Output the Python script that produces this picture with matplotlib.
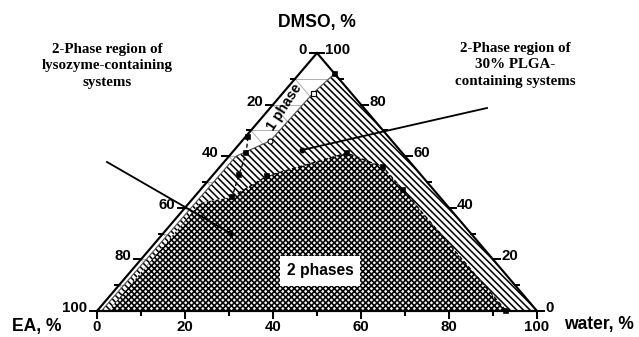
import numpy as np
import matplotlib
matplotlib.use("Agg")
from matplotlib import pyplot as plt
from matplotlib.patches import Polygon

plt.rcParams['hatch.linewidth'] = 0.95
plt.rcParams['font.family'] = ['Liberation Sans', 'DejaVu Sans']

# ---------------------------------------------------------------------------
# data (water %, DMSO %); EA % = 100 - water - DMSO
# ---------------------------------------------------------------------------
# binodal of the 30 % PLGA systems (hatched region lies right of it)
plga_water = [1.0, 1.3, 1.6, 6.4, 6.9, 8.0]
plga_dmso = [0.0, 30.0, 60.0, 66.0, 84.5, 92.0]

# binodal of the lysozyme systems, left branch (dashed, filled markers)
lyso_left_water = [0.6, 3.3, 5.9, 8.6]
lyso_left_dmso = [67.4, 61.2, 52.7, 44.2]

# binodal of the lysozyme systems, upper branch (cross-hatched region below)
lyso_water = [2.5, 2.5, 8.6, 12.5, 26.2, 37.1, 46.1, 93.0]
lyso_dmso = [0.0, 42.0, 44.2, 52.3, 61.2, 55.8, 46.9, 0.0]

tick_vals = list(range(0, 101, 10))
label_vals = list(range(0, 101, 20))

# ---------------------------------------------------------------------------
# geometry: pixel frame of the original figure
# ---------------------------------------------------------------------------
DPI = 120
W, H = 639, 337
x0, ybase = 97.0, 311.0
sx, sy = 4.40, 2.58


def tern(water, dmso):
    water = np.asarray(water, float)
    dmso = np.asarray(dmso, float)
    return water + dmso / 2.0, dmso


def px2d(px, py):
    return (px - x0) / sx, (ybase - py) / sy


fig = plt.figure(figsize=(W / DPI, H / DPI), dpi=DPI)
ax = fig.add_axes([0, 0, 1, 1])
ax.set_xlim(-x0 / sx, (W - x0) / sx)
ax.set_ylim((ybase - H) / sy, ybase / sy)
ax.axis('off')

# triangle background
tx, ty = tern([0, 100, 0, 0], [0, 0, 100, 0])
ax.fill(tx, ty, color='white', zorder=0)

# grid every 10 %
for v in tick_vals[1:-1]:
    a = tern([0, 100 - v], [v, v])
    ax.plot(a[0], a[1], color='#b0b0b0', lw=0.6, zorder=1)
    b = tern([v, v], [0, 100 - v])
    ax.plot(b[0], b[1], color='#b0b0b0', lw=0.6, zorder=1)
    c = tern([100 - v, 0], [0, 100 - v])
    ax.plot(c[0], c[1], color='#b0b0b0', lw=0.6, zorder=1)

# 2-phase region of PLGA systems (hatched)
pw = plga_water + [100.0]
pd = plga_dmso + [0.0]
px_, py_ = tern(pw, pd)
ax.add_patch(Polygon(np.column_stack([px_, py_]), closed=True, facecolor='white',
                     edgecolor='black', hatch='\\' * 6, lw=0, zorder=2))

# 2-phase region of lysozyme systems (cross-hatched)
lx, ly = tern(lyso_water, lyso_dmso)
ax.add_patch(Polygon(np.column_stack([lx, ly]), closed=True, facecolor='#f4f4f4',
                     edgecolor='black', hatch='x' * 7, lw=0, zorder=3))

# boundaries and markers
ax.plot(*tern(plga_water[3:], plga_dmso[3:]), color='#555555', lw=0.7, zorder=4)
ax.plot(*tern(plga_water[:4], plga_dmso[:4]), color='#555555', lw=0.7, zorder=4)
ax.plot(*tern(plga_water[3], plga_dmso[3]), 'o', ms=3, mfc='white', mec='black', mew=0.7, zorder=6)
ax.plot(*tern(plga_water[4], plga_dmso[4]), 's', ms=3, mfc='white', mec='black', mew=0.7, zorder=6)
ax.plot(*tern(plga_water[5], plga_dmso[5]), 's', ms=2.5, color='black', zorder=6)

ax.plot(*tern(lyso_left_water, lyso_left_dmso), ls=(0, (3, 2)), color='black', lw=0.8,
        marker='s', ms=2.5, zorder=5)
ax.plot(lx[2:], ly[2:], color='black', lw=0.8, ls=(0, (3, 2)), zorder=5)
ax.plot(lx[3:], ly[3:], 's', color='black', ms=2.5, zorder=5)

# triangle outline
ax.plot(tx, ty, color='black', lw=1.3, zorder=7, solid_joinstyle='miter')

# ticks and labels
tl = 7.0
for v in tick_vals:
    L = tl if v % 20 == 0 else tl * 0.55
    bx0, by0 = tern(v, 0)
    ax.plot([bx0, bx0], [by0, by0 - L / sy], color='black', lw=1.2, zorder=7)
    lx0, ly0 = tern(0, 100 - v)
    ax.plot([lx0, lx0 - L / sx], [ly0, ly0], color='black', lw=1.2, zorder=7)
    rx0, ry0 = tern(100 - v, v)
    ax.plot([rx0, rx0 + L / sx], [ry0, ry0], color='black', lw=1.2, zorder=7)

fs_num = 9
for v in label_vals:
    bx0, by0 = tern(v, 0)
    ax.text(bx0, by0 - 16 / sy, str(v), ha='center', va='center', fontsize=fs_num,
            fontweight='bold')
    lx0, ly0 = tern(0, 100 - v)
    ax.text(lx0 - 10 / sx, ly0 + 3 / sy, str(v), ha='right', va='center', fontsize=fs_num,
            fontweight='bold')
    rx0, ry0 = tern(100 - v, v)
    ax.text(rx0 + 8 / sx, ry0 + 3 / sy, str(v), ha='left', va='center', fontsize=fs_num,
            fontweight='bold')

# axis titles
ax.text(*px2d(317, 22), 'DMSO, %', ha='center', va='center', fontsize=10.5, fontweight='bold')
ax.text(*px2d(37, 327), 'EA, %', ha='center', va='center', fontsize=10.5, fontweight='bold')
ax.text(*px2d(599, 325), 'water, %', ha='center', va='center', fontsize=10.5, fontweight='bold')

# region labels
ax.text(*px2d(320, 271), '2 phases', ha='center', va='center', fontsize=9.4, fontweight='bold',
        zorder=9, bbox=dict(boxstyle='square,pad=0.45', fc='white', ec='none'))
ax.text(*px2d(284, 107), '1 phase', ha='center', va='center', fontsize=8.5, fontweight='bold',
        rotation=57, zorder=9)

# annotations
serif = ['Liberation Serif', 'DejaVu Serif']
ax.text(*px2d(107, 66), '2-Phase region of\nlysozyme-containing\nsystems', ha='center',
        va='center', fontsize=9, fontweight='bold', family=serif, linespacing=1.35)
ax.text(*px2d(515, 65), '2-Phase region of\n30% PLGA-\ncontaining systems', ha='center',
        va='center', fontsize=9, fontweight='bold', family=serif, linespacing=1.35)

p1 = px2d(107, 162)
p2 = px2d(230, 233)
ax.plot([p1[0], p2[0]], [p1[1], p2[1]], color='black', lw=1.1, zorder=8)
ax.plot(*p2, 'o', color='black', ms=2.5, zorder=8)
q1 = px2d(487, 108)
q2 = px2d(302, 150)
ax.plot([q1[0], q2[0]], [q1[1], q2[1]], color='black', lw=1.1, zorder=8)
ax.plot(*q2, 'o', color='black', ms=2.5, zorder=8)

fig.savefig('out.png', dpi=DPI)
